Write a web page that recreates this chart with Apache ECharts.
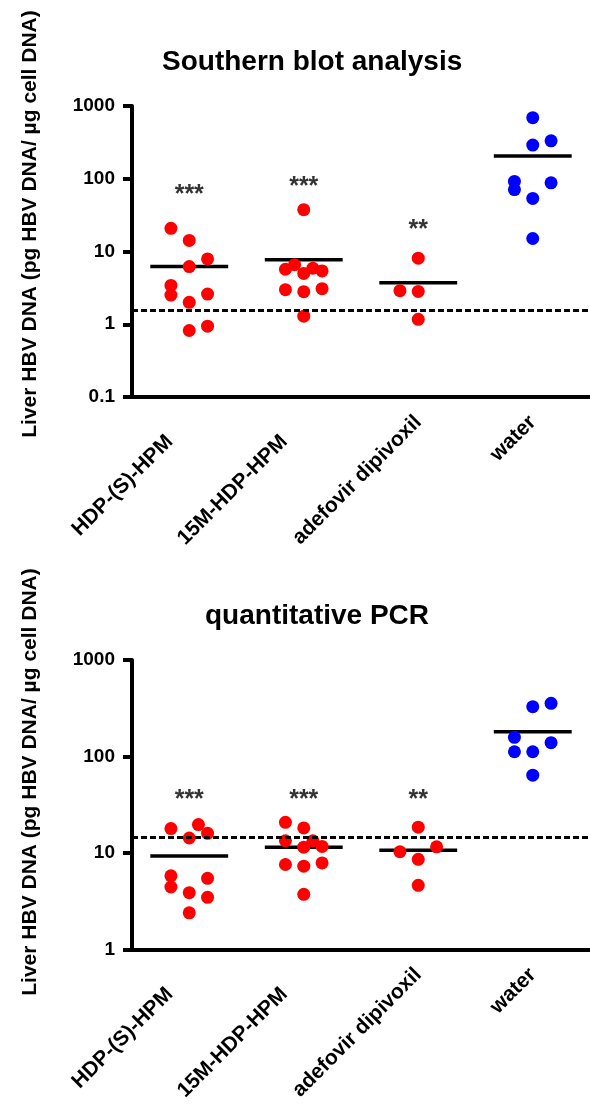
<!DOCTYPE html>
<html><head><meta charset="utf-8">
<script src="https://cdn.jsdelivr.net/npm/echarts@6/dist/echarts.min.js"></script>
<style>html,body{margin:0;padding:0;background:#fff}#c{width:590px;height:1107px}</style>
</head><body><div id="c"></div>
<script>
// ---------- shared ----------
const categories = ['HDP-(S)-HPMPA', '15M-HDP-HPMPA', 'adefovir dipivoxil', 'water'];
const categoryVisible = ['HDP-(S)-HPM', '15M-HDP-HPM', 'adefovir dipivoxil', 'water'];
const yTitle = 'Liver HBV DNA (pg HBV DNA/ \u00b5g cell DNA)';
const groupColors = ['#ff0000', '#ff0000', '#ff0000', '#0000ff'];

// ---------- Southern blot analysis ----------
const sbTitle = 'Southern blot analysis';
const sbTicks = ['0.1', '1', '10', '100', '1000'];
const sbHDPS = [20.8, 14.2, 7.9, 6.2, 3.42, 2.52, 2.6, 2.0, 0.94, 0.82];
const sbHDPSSlot = [-1, 0, 1, 0, -1, -1, 1, 0, 1, 0];
const sb15M = [37.6, 6.6, 5.9, 5.7, 5.4, 5.0, 2.99, 2.8, 3.08, 1.29];
const sb15MSlot = [0, -0.5, 0.5, -1, 1, 0, -1, 0, 1, 0];
const sbADV = [8.1, 2.89, 2.83, 1.17];
const sbADVSlot = [0, -1, 0, 0];
const sbWater = [692, 332, 290, 92, 71, 88, 53.7, 15.1];
const sbWaterSlot = [0, 1, 0, -1, -1, 1, 0, 0];
const sbMeans = [6.2, 7.7, 3.73, 205];
const sbStars = ['***', '***', '**', ''];
const sbStarLevel = [74, 96, 24.4, 0];
const sbLimit = 1.55;

// ---------- quantitative PCR ----------
const qTitle = 'quantitative PCR';
const qTicks = ['1', '10', '100', '1000'];
const qHDPS = [17.9, 19.7, 16.0, 14.3, 5.8, 5.46, 4.44, 3.88, 3.47, 2.40];
const qHDPSSlot = [-1, 0.5, 1, 0, -1, 1, -1, 0, 1, 0];
const q15M = [20.8, 18.2, 13.4, 13.4, 11.5, 11.7, 7.6, 7.3, 7.9, 3.73];
const q15MSlot = [-1, 0, -1, 0.5, 0, 1, -1, 0, 1, 0];
const qADV = [18.5, 11.6, 10.3, 8.6, 4.62];
const qADVSlot = [0, 1, -1, 0, 0];
const qWater = [356, 328, 158, 139, 112, 112, 64];
const qWaterSlot = [1, 0, -1, 1, -1, 0, 0];
const qMeans = [9.3, 11.5, 10.7, 181];
const qStars = ['***', '***', '**', ''];
const qStarLevel = [41.4, 41.4, 41.4, 0];
const qLimit = 14.7;

// ---------- style ----------
const FONT = '"Liberation Sans", Arial, Helvetica, sans-serif';
const JITTER = 0.16;
const MEAN_HALF = 0.34;

const panels = [
  { title: sbTitle, titleLeft: 162, titleTop: 48, grid: { left: 132, top: 106, width: 464, height: 291 },
    yMin: 0.1, yMax: 1000, ticks: sbTicks, yTitleY: 224,
    groups: [sbHDPS, sb15M, sbADV, sbWater], slots: [sbHDPSSlot, sb15MSlot, sbADVSlot, sbWaterSlot],
    means: sbMeans, stars: sbStars, starLevel: sbStarLevel, limit: sbLimit },
  { title: qTitle, titleLeft: 205, titleTop: 602, grid: { left: 132, top: 660, width: 464, height: 289.5 },
    yMin: 1, yMax: 1000, ticks: qTicks, yTitleY: 782,
    groups: [qHDPS, q15M, qADV, qWater], slots: [qHDPSSlot, q15MSlot, qADVSlot, qWaterSlot],
    means: qMeans, stars: qStars, starLevel: qStarLevel, limit: qLimit }
];

const option = { animation: false, backgroundColor: '#fff', title: [], grid: [], xAxis: [], yAxis: [], series: [], graphic: [] };

panels.forEach((p, pi) => {
  option.title.push({ text: p.title, left: p.titleLeft, top: p.titleTop, padding: 0,
    textStyle: { fontSize: 28, fontWeight: 'bold', color: '#000', fontFamily: FONT } });
  option.grid.push(Object.assign({ containLabel: false }, p.grid));
  option.xAxis.push({
    type: 'category', gridIndex: pi, data: categories, boundaryGap: true,
    axisLine: { onZero: false, lineStyle: { color: '#000', width: 4 } },
    axisTick: { alignWithLabel: true, length: 8, lineStyle: { color: '#000', width: 3.5 } },
    axisLabel: {
      rotate: 45, margin: 22, interval: 0, color: '#000', fontSize: 21, fontWeight: 'bold', fontFamily: FONT,
      formatter: (v) => {
        const i = categories.indexOf(v);
        const vis = categoryVisible[i];
        const rest = v.slice(vis.length);
        return rest ? '{v|' + vis + '}{h|' + rest + '}' : '{v|' + vis + '}';
      },
      rich: {
        v: { color: '#000', fontSize: 21, fontWeight: 'bold', fontFamily: FONT },
        h: { color: 'rgba(0,0,0,0)', fontSize: 21, fontWeight: 'bold', fontFamily: FONT }
      }
    },
    splitLine: { show: false }
  });
  option.xAxis.push({ type: 'value', gridIndex: pi, min: -0.5, max: 3.5, show: false });
  option.yAxis.push({
    type: 'log', logBase: 10, gridIndex: pi, min: p.yMin, max: p.yMax,
    axisLine: { show: true, onZero: false, lineStyle: { color: '#000', width: 4 } },
    axisTick: { show: true, length: 9, lineStyle: { color: '#000', width: 4 } },
    axisLabel: { color: '#000', fontSize: 19, fontWeight: 'bold', fontFamily: FONT, margin: 17,
      formatter: (v) => p.ticks.find(t => Math.abs(+t - v) / v < 1e-6) || '' },
    splitLine: { show: false }
  });
  const xi = pi * 2 + 1;
  // mean lines
  option.series.push({
    type: 'custom', xAxisIndex: xi, yAxisIndex: pi, z: 2,
    data: p.means.map((m, g) => [g, m]),
    renderItem: (params, api) => {
      const x = api.value(0), y = api.value(1);
      const a = api.coord([x - MEAN_HALF, y]);
      const b = api.coord([x + MEAN_HALF, y]);
      return { type: 'line', shape: { x1: a[0], y1: a[1], x2: b[0], y2: b[1] },
        style: { stroke: '#000', lineWidth: 3.5 } };
    }
  });
  // dots
  p.groups.forEach((vals, g) => {
    option.series.push({
      type: 'scatter', xAxisIndex: xi, yAxisIndex: pi, z: 3,
      symbol: 'circle', symbolSize: 13,
      itemStyle: { color: groupColors[g], opacity: 1 },
      data: vals.map((v, k) => [g + p.slots[g][k] * JITTER, v])
    });
  });
  // stars + limit line
  option.series.push({
    type: 'scatter', xAxisIndex: xi, yAxisIndex: pi, z: 4,
    symbolSize: 2, itemStyle: { color: 'rgba(255,255,255,0)' },
    data: p.stars.map((s, g) => s ? { name: s, value: [g, p.starLevel[g]] } : null).filter(Boolean),
    label: { show: true, position: 'inside', formatter: (d) => d.name, color: '#000', fontSize: 25,
      fontWeight: 'bold', fontFamily: FONT, offset: [0, 7] },
    markLine: { silent: true, symbol: 'none', label: { show: false },
      lineStyle: { type: [6, 3], width: 3, color: '#000' },
      data: [{ yAxis: p.limit }] }
  });
  option.graphic.push({
    type: 'text', x: 30, y: p.yTitleY, rotation: Math.PI / 2,
    style: { text: yTitle, fontSize: 21, fontWeight: 'bold', fontFamily: FONT, fill: '#000',
      align: 'center', verticalAlign: 'middle', textAlign: 'center', textVerticalAlign: 'middle' }
  });
});

const chart = echarts.init(document.getElementById('c'), null, { renderer: 'canvas', width: 590, height: 1107 });
chart.setOption(option);
</script>
</body></html>
